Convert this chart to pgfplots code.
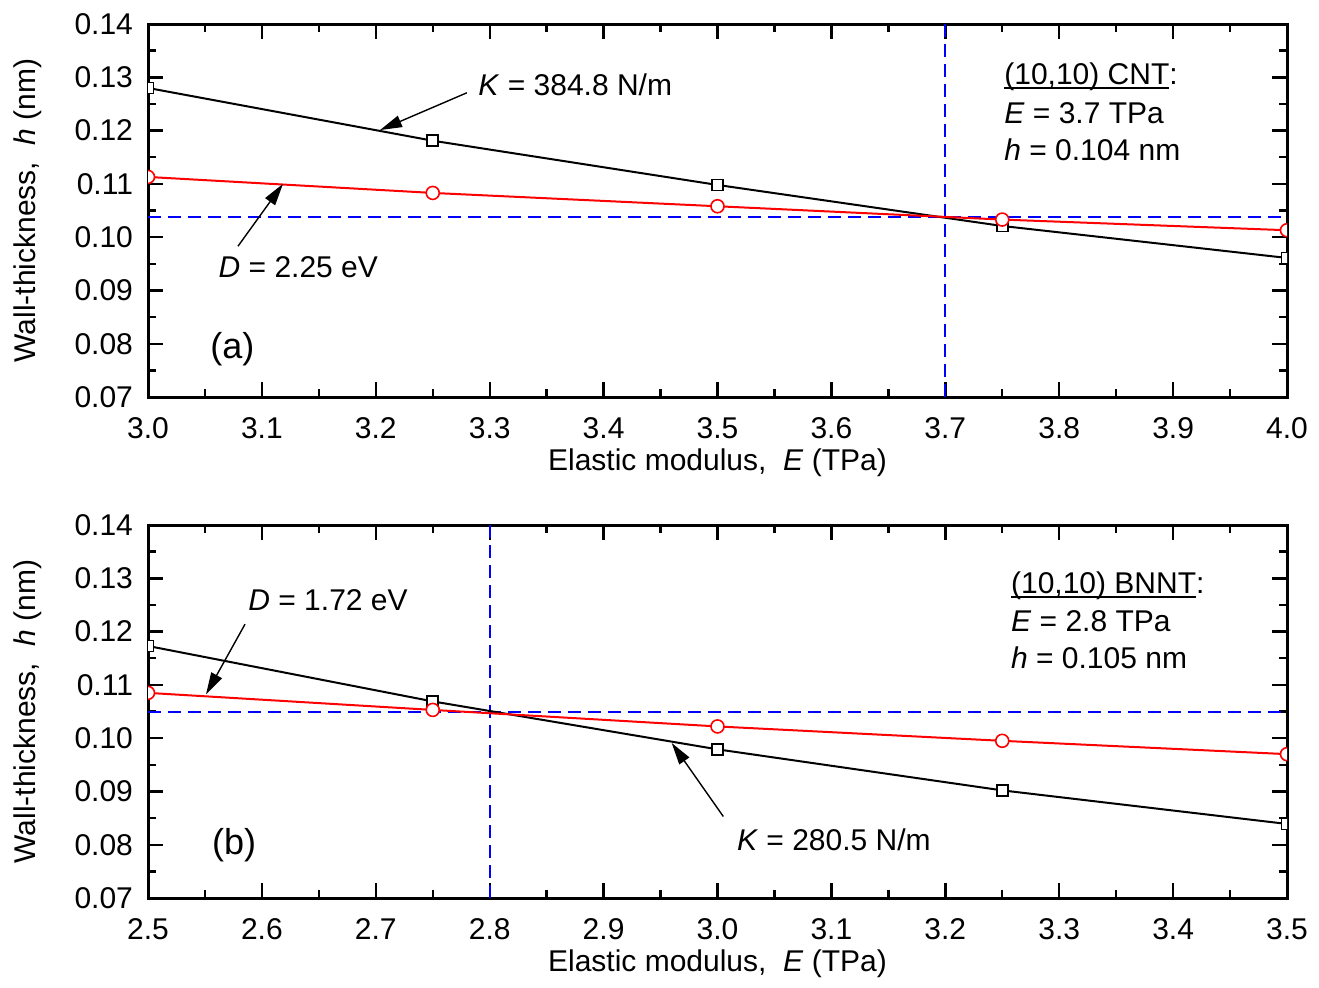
\documentclass[border=0pt]{standalone}
\usepackage{fontspec}
\setmainfont{Liberation Sans}
\usepackage{pgfplots}
\pgfplotsset{compat=1.18}
\usetikzlibrary{arrows.meta}

\newcommand\ul[1]{\setbox0\hbox{#1}\rlap{\rule[-2pt]{\wd0}{0.8pt}}\box0}

\tikzset{
  ann/.style={font=\fontsize{15}{18}\selectfont, inner sep=0pt, anchor=base west},
  arr/.style={-{Triangle[length=11pt,width=6pt]}, line width=0.7pt, black},
}
\pgfplotsset{
  myax/.style={
    scale only axis, width=569.5pt, height=186.5pt,
    ymin=0.07, ymax=0.14,
    ytick={0.07,0.08,0.09,0.10,0.11,0.12,0.13,0.14},
    minor x tick num=1, minor y tick num=1,
    tick align=inside, major tick length=7.5pt, minor tick length=4pt,
    axis line style={line width=1.5pt},
    every tick/.style={line width=1.2pt, black},
    clip marker paths=true,
    /pgf/number format/assume math mode=true,
    ticklabel style={font=\fontsize{15}{17}\selectfont},
    yticklabel style={xshift=-4pt, /pgf/number format/.cd, fixed, fixed zerofill, precision=2},
    xticklabel style={yshift=-6.5pt, /pgf/number format/.cd, fixed, fixed zerofill, precision=1},
    scaled y ticks=false, scaled x ticks=false,
    xlabel={Elastic modulus,\ \ \textit{E} (TPa)},
    ylabel={Wall-thickness,\ \ \textit{h} (nm)},
    every axis x label/.style={at={(axis description cs:0.5,-0.197)}, anchor=base,
      font=\fontsize{15}{18}\selectfont},
    every axis y label/.style={at={(axis description cs:-0.0992,0.5)}, anchor=base, rotate=90,
      font=\fontsize{15}{18}\selectfont},
  },
  blk/.style={black, line width=1pt, mark=square*, mark size=2.75pt,
    mark options={draw=black, fill=white, line width=0.8pt, solid}},
  rd/.style={red, line width=1pt, mark=*, mark size=3.25pt,
    mark options={draw=red, fill=white, line width=0.8pt, solid}},
  bl/.style={blue, line width=1pt, dash pattern=on 6.5pt off 3.5pt, mark=none},
}

\begin{document}
\begin{tikzpicture}
\useasboundingbox (0,0) rectangle (659.5pt,-493.5pt);

% ---------------- panel (a)
\begin{axis}[myax, at={(74pt,-198.5pt)}, anchor=south west,
  xmin=3.0, xmax=4.0,
  xtick={3.0,3.1,3.2,3.3,3.4,3.5,3.6,3.7,3.8,3.9,4.0}]
\addplot[bl] coordinates {(3.0,0.1037) (4.0,0.1037)};
\addplot[bl] coordinates {(3.7,0.07) (3.7,0.14)};
\addplot[blk] coordinates {(3.0,0.1280) (3.25,0.1181) (3.5,0.1098) (3.75,0.1021) (4.0,0.0961)};
\addplot[rd] coordinates {(3.0,0.1113) (3.25,0.1083) (3.5,0.1058) (3.75,0.1033) (4.0,0.1013)};
\node[ann] at (axis cs:3.2897,0.1265) {\textit{K} = 384.8 N/m};
\draw[arr] (axis cs:3.280,0.1271) -- (axis cs:3.2037,0.1201);
\node[ann] at (axis cs:3.0617,0.0924) {\textit{D} = 2.25 eV};
\draw[arr] (axis cs:3.079,0.0983) -- (axis cs:3.1185,0.1100);
\node[ann, font=\fontsize{18}{20}\selectfont] at (axis cs:3.0544,0.0773) {(a)};
\node[ann] at (axis cs:3.7515,0.1286) {\ul{(10,10) CNT}:};
\node[ann] at (axis cs:3.7515,0.1214) {\textit{E} = 3.7 TPa};
\node[ann] at (axis cs:3.7515,0.1143) {\textit{h} = 0.104 nm};
\end{axis}

% ---------------- panel (b)
\begin{axis}[myax, at={(74pt,-449pt)}, anchor=south west,
  xmin=2.5, xmax=3.5,
  xtick={2.5,2.6,2.7,2.8,2.9,3.0,3.1,3.2,3.3,3.4,3.5}]
\addplot[bl] coordinates {(2.5,0.1049) (3.5,0.1049)};
\addplot[bl] coordinates {(2.8,0.07) (2.8,0.14)};
\addplot[blk] coordinates {(2.5,0.1173) (2.75,0.1069) (3.0,0.0979) (3.25,0.0902) (3.5,0.0839)};
\addplot[rd] coordinates {(2.5,0.1085) (2.75,0.1053) (3.0,0.1022) (3.25,0.0995) (3.5,0.0970)};
\node[ann] at (axis cs:2.5878,0.1239) {\textit{D} = 1.72 eV};
\draw[arr] (axis cs:2.5852,0.1214) -- (axis cs:2.5509,0.1082);
\node[ann] at (axis cs:3.0168,0.0790) {\textit{K} = 280.5 N/m};
\draw[arr] (axis cs:3.0051,0.0853) -- (axis cs:2.9598,0.0991);
\node[ann, font=\fontsize{18}{20}\selectfont] at (axis cs:2.5559,0.0781) {(b)};
\node[ann] at (axis cs:3.2574,0.1271) {\ul{(10,10) BNNT}:};
\node[ann] at (axis cs:3.2574,0.1201) {\textit{E} = 2.8 TPa};
\node[ann] at (axis cs:3.2574,0.1130) {\textit{h} = 0.105 nm};
\end{axis}
\end{tikzpicture}
\end{document}
